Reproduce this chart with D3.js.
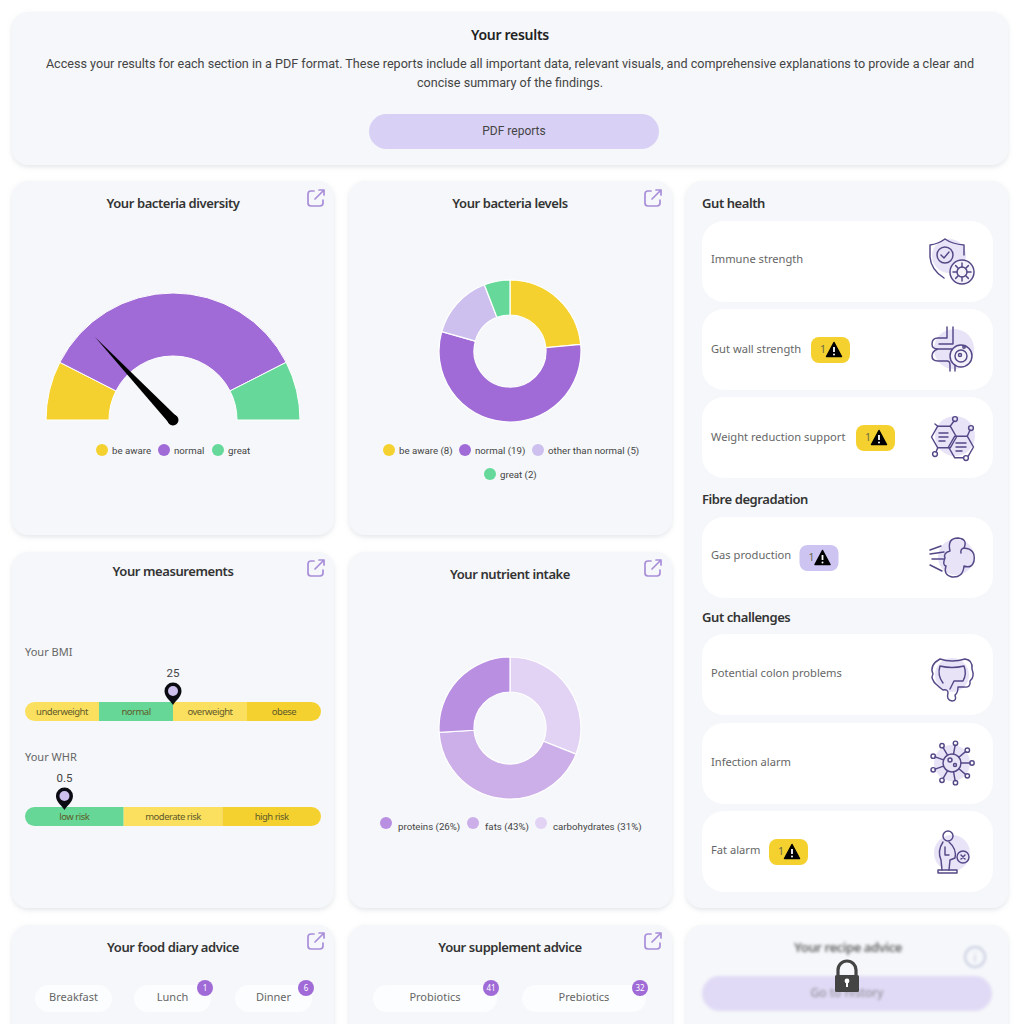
<!DOCTYPE html>
<html>
<head>
<meta charset="utf-8">
<script src="https://cdn.jsdelivr.net/npm/d3@7"></script>
<style>
  html, body { margin: 0; padding: 0; background: #fff; overflow: hidden; }
  svg { display: block; }
  text { font-family: "Noto Sans", sans-serif; }
  .title { font-size: 13px; font-weight: 600; fill: #333; text-anchor: middle; letter-spacing: -0.42px; }
  .legend { font-family: Roboto, sans-serif; font-size: 9.7px; fill: #444; }
  .row-label { font-size: 11.15px; fill: #666; }
  .head { font-size: 13px; font-weight: 600; fill: #333; letter-spacing: -0.42px; }
</style>
</head>
<body>
<div id="chart"></div>
<script>
// Chart values
const gaugeLabels = ["be aware", "normal", "great"];
const gaugeValues = [15, 70, 15];
const gaugeNeedle = 26;

const levelLabels = ["be aware", "normal", "other than normal", "great"];
const levelValues = [8, 19, 5, 2];

const nutrientLabels = ["carbohydrates", "fats", "proteins"];
const nutrientValues = [31, 43, 26];
const nutrientLegendOrder = ["proteins", "fats", "carbohydrates"];

const bmiZones = ["underweight", "normal", "overweight", "obese"];
const bmiStops = [10, 18.5, 25, 30, 35];
const bmiValue = 25;

const whrZones = ["low risk", "moderate risk", "high risk"];
const whrStops = [0.3, 0.8, 0.9, 1.0];
const whrValue = 0.5;

const foodMeals = ["Breakfast", "Lunch", "Dinner"];
const foodCounts = [0, 1, 6];
const supplementNames = ["Probiotics", "Prebiotics"];
const supplementCounts = [41, 32];

const gutLabels = ["Immune strength", "Gut wall strength", "Weight reduction support", "Gas production", "Potential colon problems", "Infection alarm", "Fat alarm"];
const gutAlerts = [0, 1, 1, 1, 0, 0, 1];

// Colours
const yellow = "#f5d130", lightYellow = "#fbe05f", purple = "#a06bd6", green = "#66d99a", lilac = "#cdc0ef";
const cardBg = "#f5f7fa", iconInk = "#544887", linkInk = "#a98ed9";

const svg = d3.select("#chart").append("svg")
    .attr("width", 1024)
    .attr("height", 1024);

const defs = svg.append("defs");
const shadow = defs.append("filter").attr("id", "shadow")
    .attr("x", "-5%").attr("y", "-5%").attr("width", "110%").attr("height", "112%");
shadow.append("feDropShadow")
    .attr("dx", 0).attr("dy", 2).attr("stdDeviation", 2.5)
    .attr("flood-color", "#9aa3b0").attr("flood-opacity", 0.28);
defs.append("filter").attr("id", "blur").append("feGaussianBlur").attr("stdDeviation", 1.6);

// Cards
function card(x, y, w, h) {
    svg.append("rect")
        .attr("x", x).attr("y", y)
        .attr("width", w).attr("height", h)
        .attr("rx", 16)
        .attr("fill", cardBg)
        .attr("filter", "url(#shadow)");
}
card(12, 12, 996, 153);
card(12, 181, 322, 354);
card(349, 181, 323, 354);
card(686, 181, 322, 727);
card(12, 552, 322, 356);
card(349, 552, 323, 356);
card(12, 925, 322, 130);
card(349, 925, 323, 130);
card(686, 925, 322, 130);

function title(x, y, txt) {
    svg.append("text").attr("class", "title").attr("x", x).attr("y", y).text(txt);
}

// External link icon in the card corner
function linkIcon(x, y) {
    const g = svg.append("g").attr("transform", "translate(" + x + "," + y + ")")
        .attr("fill", "none").attr("stroke", linkInk).attr("stroke-width", 1.7)
        .attr("stroke-linecap", "round").attr("stroke-linejoin", "round");
    g.append("path").attr("d", "M-2,-7 H-5 Q-8,-7 -8,-4 V5 Q-8,8 -5,8 H4 Q7,8 7,5 V2");
    g.append("path").attr("d", "M-1,1 L8,-8 M3,-8 H8 V-3");
}
[[316, 198], [653, 198], [316, 568], [653, 568], [316, 941], [653, 941]].forEach(p => linkIcon(p[0], p[1]));

// Header card
svg.append("text").attr("x", 510).attr("y", 40)
    .attr("text-anchor", "middle")
    .style("font-size", "14px").style("font-weight", 600).style("fill", "#222").style("letter-spacing", "-0.3px")
    .text("Your results");
const intro = ["Access your results for each section in a PDF format. These reports include all important data, relevant visuals, and comprehensive explanations to provide a clear and",
    "concise summary of the findings."];
svg.selectAll(".intro").data(intro).enter().append("text")
    .attr("class", "intro")
    .attr("x", 510)
    .attr("y", (d, i) => 67.5 + i * 19)
    .attr("text-anchor", "middle")
    .style("font-family", "Roboto, sans-serif").style("font-size", "12.6px").style("fill", "#444")
    .text(d => d);
svg.append("rect").attr("x", 369).attr("y", 114).attr("width", 290).attr("height", 35)
    .attr("rx", 17.5).attr("fill", "#d9d0f5");
svg.append("text").attr("x", 514).attr("y", 135).attr("text-anchor", "middle")
    .style("font-family", "Roboto, sans-serif").style("font-size", "12px").style("fill", "#444")
    .text("PDF reports");

// Legend helper, items are placed by hand like the reference wraps them
function legend(labels, colors, xs, ys, textDx, textDy) {
    labels.forEach(function(label, i) {
        svg.append("circle").attr("cx", xs[i]).attr("cy", ys[i]).attr("r", 6).attr("fill", colors[i]);
        svg.append("text").attr("class", "legend")
            .attr("x", xs[i] + textDx).attr("y", ys[i] + textDy)
            .text(label);
    });
}

// Gauge
title(173, 208, "Your bacteria diversity");
const gaugeColor = d3.scaleOrdinal().domain(gaugeLabels).range([yellow, purple, green]);
const gaugePie = d3.pie().sort(null).startAngle(-Math.PI / 2).endAngle(Math.PI / 2);
const gaugeArc = d3.arc().innerRadius(64).outerRadius(127);
const gaugeG = svg.append("g").attr("transform", "translate(173,420)");
gaugeG.selectAll("path").data(gaugePie(gaugeValues)).enter().append("path")
    .attr("d", gaugeArc)
    .attr("fill", (d, i) => gaugeColor(gaugeLabels[i]))
    .attr("stroke", "#fff").attr("stroke-width", 1);

const needleAngle = d3.scaleLinear().domain([0, 100]).range([-90, 90]);
const needle = gaugeG.append("g").attr("transform", "rotate(" + needleAngle(gaugeNeedle) + ")");
needle.append("path").attr("d", "M-5,0 L0,-114 L5,0 Z").attr("fill", "#000");
needle.append("circle").attr("r", 5.5).attr("fill", "#000");
legend(gaugeLabels, gaugeLabels.map(gaugeColor), [102, 164, 218], [450, 450, 450], 10, 3.5);

// Donuts
function donut(cx, cy, values, colors) {
    const pie = d3.pie().sort(null);
    const arc = d3.arc().innerRadius(36).outerRadius(71);
    svg.append("g").attr("transform", "translate(" + cx + "," + cy + ")")
        .selectAll("path").data(pie(values)).enter().append("path")
        .attr("d", arc)
        .attr("fill", (d, i) => colors[i])
        .attr("stroke", "#fff").attr("stroke-width", 1.2);
}

title(510, 208, "Your bacteria levels");
const levelColors = [yellow, purple, lilac, green];
donut(510, 351, levelValues, levelColors);
legend(levelLabels.map((l, i) => l + " (" + levelValues[i] + ")"), levelColors, [389, 465, 538, 490], [450, 450, 450, 474], 10, 3.5);

title(510, 579, "Your nutrient intake");
const nutrientColor = d3.scaleOrdinal().domain(nutrientLabels).range(["#e2d3f5", "#ccafe9", "#b98fe1"]);
donut(510, 728, nutrientValues, nutrientLabels.map(nutrientColor));
legend(nutrientLegendOrder.map(n => n + " (" + nutrientValues[nutrientLabels.indexOf(n)] + "%)"),
    nutrientLegendOrder.map(nutrientColor), [386, 473, 541], [823, 823, 823], 12, 6.5);

// Measurement bars
title(173, 576, "Your measurements");
const barLeft = 25, barRight = 321, barHeight = 19;

function scaleBar(label, labelY, barY, zones, stops, value, valueText, colors) {
    svg.append("text").attr("x", barLeft).attr("y", labelY)
        .style("font-size", "11px").style("fill", "#666")
        .text(label);

    const zoneStep = (barRight - barLeft) / zones.length;
    const x = d3.scaleLinear().domain(stops).range(stops.map((s, i) => barLeft + i * zoneStep));
    const clipId = "clip-" + label.replace(/\W/g, "");
    defs.append("clipPath").attr("id", clipId).append("rect")
        .attr("x", barLeft).attr("y", barY)
        .attr("width", barRight - barLeft).attr("height", barHeight)
        .attr("rx", barHeight / 2);

    const bar = svg.append("g").attr("clip-path", "url(#" + clipId + ")");
    bar.selectAll("rect").data(zones).enter().append("rect")
        .attr("x", (d, i) => x(stops[i]))
        .attr("y", barY)
        .attr("width", zoneStep)
        .attr("height", barHeight)
        .attr("fill", (d, i) => colors[i]);

    svg.selectAll(null).data(zones).enter().append("text")
        .attr("x", (d, i) => x(stops[i]) + zoneStep / 2)
        .attr("y", barY + 12.5)
        .attr("text-anchor", "middle")
        .style("font-size", "9.5px").style("letter-spacing", "-0.5px").style("fill", "#5f5a2a")
        .text(d => d);

    // Pin
    const px = x(value);
    const pin = svg.append("g").attr("transform", "translate(" + px + "," + (barY + 3) + ")");
    pin.append("path").attr("d", "M0,0 C-3,-5 -8.5,-8 -8.5,-14 A8.5,8.5 0 1 1 8.5,-14 C8.5,-8 3,-5 0,0 Z").attr("fill", "#0b0b14");
    pin.append("circle").attr("cy", -14).attr("r", 5).attr("fill", lilac);
    svg.append("text").attr("x", px).attr("y", barY - 25)
        .attr("text-anchor", "middle")
        .style("font-family", "Roboto, sans-serif").style("font-size", "11.5px").style("fill", "#444")
        .text(valueText);
}
scaleBar("Your BMI", 656, 702, bmiZones, bmiStops, bmiValue, "25", [lightYellow, "#66d796", lightYellow, yellow]);
scaleBar("Your WHR", 761, 807, whrZones, whrStops, whrValue, "0.5", ["#66d796", lightYellow, yellow]);

// Line icons, drawn around (0,0) in a box of about 44px
function iconBase(cx, cy, dx, dy, r) {
    const g = svg.append("g").attr("transform", "translate(" + cx + "," + cy + ")");
    g.append("circle").attr("cx", dx).attr("cy", dy).attr("r", r).attr("fill", "#e9e3f8");
    return g.append("g").attr("fill", "none").attr("stroke", iconInk).attr("stroke-width", 1.45)
        .attr("stroke-linecap", "round").attr("stroke-linejoin", "round");
}
function spokes(g, cx, cy, r0, r1, n) {
    d3.range(n).forEach(function(i) {
        const a = i / n * 2 * Math.PI;
        g.append("line")
            .attr("x1", cx + r0 * Math.cos(a)).attr("y1", cy + r0 * Math.sin(a))
            .attr("x2", cx + r1 * Math.cos(a)).attr("y2", cy + r1 * Math.sin(a));
    });
}
const icons = [
    function(x, y) { // shield
        const g = iconBase(x, y, -3, -5, 17);
        g.append("path").attr("d", "M-7,-22 Q-14,-17 -22,-16 V-4 Q-21,9 -8,17 M-7,-22 Q0,-17 12,-16 V-6");
        g.append("circle").attr("cx", -7).attr("cy", -6).attr("r", 8);
        g.append("path").attr("d", "M-11,-6 L-8,-3 L-3,-9");
        g.append("circle").attr("cx", 10).attr("cy", 11).attr("r", 12).attr("fill", "#f4f1fb");
        g.append("circle").attr("cx", 10).attr("cy", 11).attr("r", 5);
        spokes(g, 10, 11, 5, 9, 8);
    },
    function(x, y) { // gut
        const g = iconBase(x, y, 2, 0, 20);
        g.append("path").attr("d", "M-5,-22 V-11 H-14 Q-20,-11 -20,-5 Q-20,0 -14,0 H0 M1,-22 V-5 H-13 M-14,0 Q-20,2 -20,7 Q-20,12 -14,12 H-5 Q-2,12 -2,16 V22 M3,22 V14");
        g.append("circle").attr("cx", 9).attr("cy", 7).attr("r", 11).attr("fill", "#f4f1fb");
        g.append("circle").attr("cx", 9).attr("cy", 7).attr("r", 6);
        g.append("circle").attr("cx", 8).attr("cy", 6).attr("r", 1.5);
        g.append("circle").attr("cx", 12).attr("cy", -2).attr("r", 1.2);
    },
    function(x, y) { // hexagons
        const g = iconBase(x, y, 3, -1, 20);
        g.append("path").attr("d", "M4.5,0 L-1.75,-10.8 H-14.25 L-20.5,0 L-14.25,10.8 H-1.75 Z");
        g.append("path").attr("d", "M21.5,10 L15.25,-0.8 H2.75 L-3.5,10 L2.75,20.8 H15.25 Z");
        g.append("path").attr("d", "M-1.75,-10.8 L2,-16 M15.25,-0.8 L18,-7 M-14.25,10.8 L-16,15 M-14.25,-10.8 L-17,-13");
        g.append("circle").attr("cx", 3).attr("cy", -18).attr("r", 2.4);
        g.append("circle").attr("cx", 19).attr("cy", -9).attr("r", 2.4);
        g.append("circle").attr("cx", -17).attr("cy", 17).attr("r", 2.4);
        g.append("circle").attr("cx", 14).attr("cy", 21).attr("r", 2.4).attr("fill", "#fff");
        g.append("path").attr("d", "M-13,-4 H-4 M-13,0 H-4 M-13,4 H-7 M4,6 H14 M4,10 H14 M4,14 H10");
    },
    function(x, y) { // gas cloud
        const g = iconBase(x, y, 4, 0, 18);
        g.append("path").attr("d", "M-2,-6 Q-5,-19 6,-19 Q16,-18 12,-9 Q24,-8 22,4 Q20,12 12,9 Q11,21 0,20 Q-9,18 -6,9 Q-10,8 -7,1 Q-9,-4 -2,-6 M12,-9 Q8,-8 9,-4");
        g.append("path").attr("d", "M-22,-7 L-11,-11 M-22,-3 L-8,-5 M-20,2 L-8,2 M-22,8 L-10,14");
    },
    function(x, y) { // colon
        const g = iconBase(x, y + 5, 0, -4, 17);
        g.append("path").attr("d", "M-12,-20 Q0,-16 13,-20 Q21,-19 20,-10 Q23,-2 18,2 Q19,9 12,8 H6 Q6,14 3,16 Q5,22 0,22 Q-6,21 -4,14 Q-4,10 -9,11 Q-13,8 -15,6 Q-22,0 -19,-5 Q-23,-14 -12,-20 Z");
        g.append("path").attr("d", "M-12,-13 Q0,-10 12,-13 Q15,-5 11,2 H2 Q0,6 -2,10 M-12,-13 Q-15,-4 -9,4");
    },
    function(x, y) { // virus
        const g = iconBase(x, y, 0, 0, 18);
        g.append("circle").attr("r", 9);
        g.append("circle").attr("cx", -2).attr("cy", -3).attr("r", 2);
        g.append("circle").attr("cx", 3).attr("cy", 2).attr("r", 1.5);
        spokes(g, 0, 0, 9, 18, 9);
        d3.range(9).forEach(function(i) {
            const a = i / 9 * 2 * Math.PI;
            g.append("circle").attr("cx", 20 * Math.cos(a)).attr("cy", 20 * Math.sin(a)).attr("r", 2.2);
        });
    },
    function(x, y) { // person on scale
        const g = iconBase(x, y, 0, 2, 18);
        g.append("circle").attr("cx", -4).attr("cy", -15).attr("r", 5);
        g.append("path").attr("d", "M-9,-9 Q-15,0 -11,9 L-10,19 M-3,-9 Q5,-2 3,7 L-2,9 L-3,19 M-7,-4 V4 L-3,4");
        g.append("path").attr("d", "M-14,19 H5 V22 H-14 Z");
        g.append("circle").attr("cx", 11).attr("cy", 6).attr("r", 6);
        g.append("path").attr("d", "M9,4 L13,8 M13,4 L9,8");
    }
];

// Warning badge
function badge(x, y, color) {
    svg.append("rect").attr("x", x).attr("y", y).attr("width", 39).attr("height", 26).attr("rx", 8).attr("fill", color);
    svg.append("text").attr("x", x + 9).attr("y", y + 16)
        .style("font-size", "10.5px").style("fill", "#6a6a4a").text("1");
    const t = svg.append("g").attr("transform", "translate(" + (x + 23) + "," + (y + 13) + ")");
    t.append("path").attr("d", "M0,-7.5 L7.5,6.5 H-7.5 Z").attr("fill", "#000").attr("stroke", "#000").attr("stroke-width", 1.5).attr("stroke-linejoin", "round");
    t.append("path").attr("d", "M0,-3 V2").attr("stroke", "#fff").attr("stroke-width", 1.8);
    t.append("circle").attr("cy", 4.6).attr("r", 1).attr("fill", "#fff");
}

// Right column
svg.append("text").attr("class", "head").attr("x", 702).attr("y", 208).text("Gut health");
svg.append("text").attr("class", "head").attr("x", 702).attr("y", 504).text("Fibre degradation");
svg.append("text").attr("class", "head").attr("x", 702).attr("y", 622).text("Gut challenges");

const rowTops = [221, 309, 397, 517, 634, 723, 811];
const rowTextY = [263, 353, 441, 559, 677, 766, 854];
const badgeLefts = [0, 811, 856, 799.5, 0, 0, 769];
gutLabels.forEach(function(label, i) {
    const top = rowTops[i];
    svg.append("rect").attr("x", 702).attr("y", top).attr("width", 291).attr("height", 81)
        .attr("rx", 22).attr("fill", "#fff");
    svg.append("text").attr("class", "row-label").attr("x", 711).attr("y", rowTextY[i]).text(label);
    if (gutAlerts[i]) {
        badge(badgeLefts[i], top + 28, label === "Gas production" ? "#cdc4f2" : yellow);
    }
    icons[i](952, top + 40);
});

// Bottom cards
title(173, 952, "Your food diary advice");
title(510, 952, "Your supplement advice");

function pill(x, w, label, count) {
    svg.append("rect").attr("x", x).attr("y", 985).attr("width", w).attr("height", 27)
        .attr("rx", 13.5).attr("fill", "#fcfdfe");
    svg.append("text").attr("x", x + w / 2).attr("y", 1001).attr("text-anchor", "middle")
        .style("font-size", "11px").style("fill", "#666").text(label);
    if (count) {
        svg.append("circle").attr("cx", x + w - 6).attr("cy", 988).attr("r", 8).attr("fill", purple);
        svg.append("text").attr("x", x + w - 6).attr("y", 991).attr("text-anchor", "middle")
            .style("font-size", "8px").style("fill", "#fff").text(count);
    }
}
const foodX = [35, 134, 235];
foodMeals.forEach((m, i) => pill(foodX[i], 77, m, foodCounts[i]));
const supplementX = [373, 522];
supplementNames.forEach((m, i) => pill(supplementX[i], 124, m, supplementCounts[i]));

// Locked card, everything behind the padlock is blurred
const locked = svg.append("g").attr("filter", "url(#blur)");
locked.append("text").attr("x", 848).attr("y", 952).attr("text-anchor", "middle")
    .style("font-size", "13px").style("font-weight", 600).style("letter-spacing", "-0.42px").style("fill", "#666")
    .text("Your recipe advice");
locked.append("circle").attr("cx", 975).attr("cy", 957).attr("r", 10)
    .attr("fill", "none").attr("stroke", "#c9cde0").attr("stroke-width", 2);
locked.append("text").attr("x", 975).attr("y", 962).attr("text-anchor", "middle")
    .style("font-size", "13px").style("fill", "#c9cde0").text("i");
locked.append("rect").attr("x", 702).attr("y", 976).attr("width", 290).attr("height", 35)
    .attr("rx", 17.5).attr("fill", "#e1daf6");
locked.append("text").attr("x", 847).attr("y", 997).attr("text-anchor", "middle")
    .style("font-size", "12px").style("fill", "#777").text("Go to history");

const lock = svg.append("g").attr("transform", "translate(847,978)");
lock.append("path").attr("d", "M-9,-3 V-8 A9,9 0 0 1 9,-8 V-3").attr("fill", "none").attr("stroke", "#444").attr("stroke-width", 3.2);
lock.append("rect").attr("x", -12).attr("y", -3).attr("width", 24).attr("height", 17).attr("rx", 1.5).attr("fill", "#444");
lock.append("circle").attr("cy", 3).attr("r", 2.4).attr("fill", "#fff");
lock.append("rect").attr("x", -1).attr("y", 3).attr("width", 2).attr("height", 6).attr("fill", "#fff");
</script>
</body>
</html>
